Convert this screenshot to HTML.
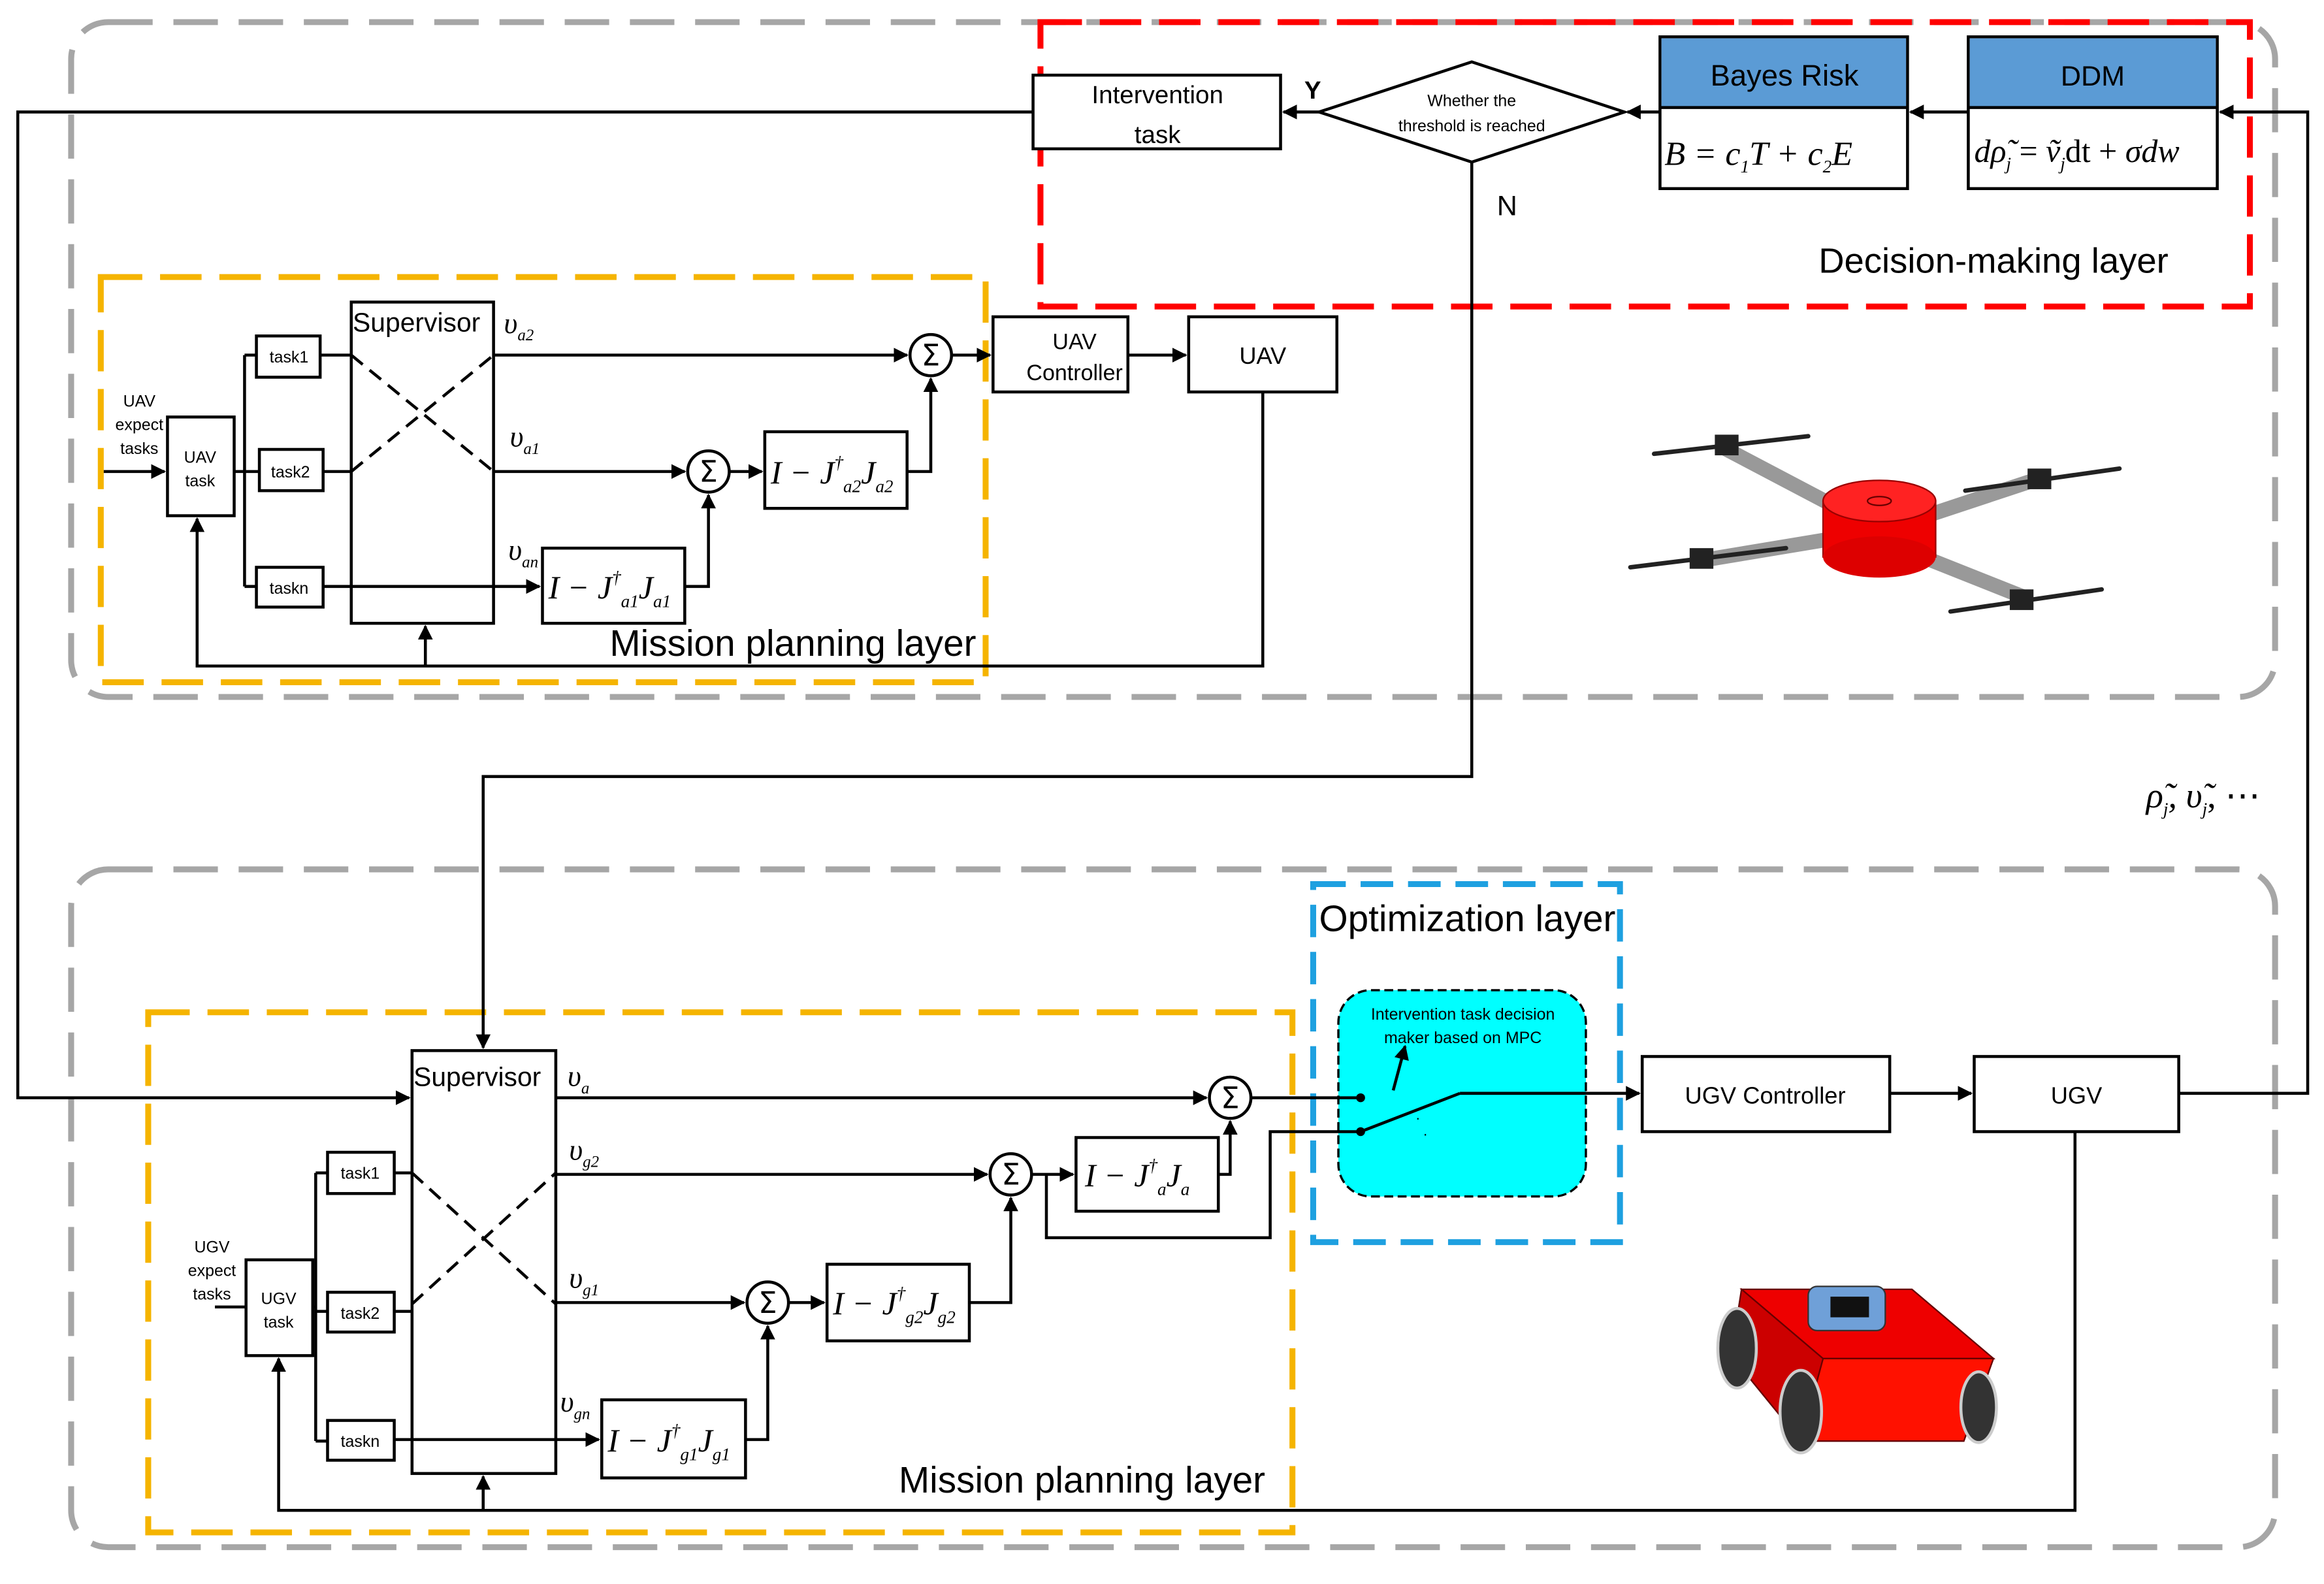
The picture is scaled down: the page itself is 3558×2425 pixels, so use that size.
<!DOCTYPE html>
<html><head><meta charset="utf-8"><style>html,body{margin:0;padding:0;background:#fff}svg{display:block}</style></head>
<body>
<svg width="3558" height="2425" viewBox="0 0 1568 1075" preserveAspectRatio="none" xmlns="http://www.w3.org/2000/svg" font-family="Liberation Sans, sans-serif">
<defs>
<marker id="a" markerWidth="10" markerHeight="10" refX="9" refY="5" orient="auto" markerUnits="userSpaceOnUse"><path d="M0,0 L10,5 L0,10 z" fill="#000"/></marker>
</defs>
<rect width="1568" height="1075" fill="#fff"/>
<rect x="48" y="15" width="1487" height="458" rx="25" fill="none" stroke="#a6a6a6" stroke-width="4" stroke-dasharray="30,14"/>
<rect x="48" y="590" width="1487" height="460" rx="25" fill="none" stroke="#a6a6a6" stroke-width="4" stroke-dasharray="30,14"/>
<rect x="702" y="15" width="816" height="193" fill="none" stroke="#ff0000" stroke-width="4" stroke-dasharray="28,12"/>
<rect x="68" y="188" width="597" height="275" fill="none" stroke="#f5b400" stroke-width="4" stroke-dasharray="28,12"/>
<rect x="100" y="687" width="772" height="353" fill="none" stroke="#f5b400" stroke-width="4" stroke-dasharray="28,12"/>
<rect x="886" y="600" width="207" height="243" fill="none" stroke="#1ea0e0" stroke-width="4" stroke-dasharray="22,10"/>
<rect x="903" y="672" width="167" height="140" rx="22" fill="#00ffff" stroke="#000" stroke-width="1.5" stroke-dasharray="6,3"/>

<g fill="none" stroke="#000" stroke-width="2">
<rect x="697" y="51" width="167" height="50" fill="#fff"/>
<polygon points="890,76 993,42 1096,76 993,110" fill="#fff"/>
<rect x="1120" y="25" width="167" height="103" fill="#fff"/>
<rect x="1121" y="26" width="165" height="47" fill="#5b9bd5" stroke="none"/>
<rect x="1328" y="25" width="168" height="103" fill="#fff"/>
<rect x="1329" y="26" width="166" height="47" fill="#5b9bd5" stroke="none"/>
<line x1="1120" y1="73" x2="1287" y2="73"/>
<line x1="1328" y1="73" x2="1496" y2="73"/>
<line x1="890" y1="76" x2="866" y2="76" marker-end="url(#a)"/>
<line x1="1120" y1="76" x2="1098" y2="76" marker-end="url(#a)"/>
<line x1="1328" y1="76" x2="1289" y2="76" marker-end="url(#a)"/>
<polyline points="1470,742 1557,742 1557,76 1498,76" marker-end="url(#a)"/>
<polyline points="697,76 12,76 12,745 276,745" marker-end="url(#a)"/>
<polyline points="993,110 993,527 326,527 326,711" marker-end="url(#a)"/>

<line x1="70" y1="320" x2="111" y2="320" marker-end="url(#a)"/>
<rect x="113" y="283" width="45" height="67"/>
<polyline points="158,320 165,320"/>
<line x1="165" y1="241" x2="165" y2="398"/>
<line x1="165" y1="241" x2="173" y2="241"/><line x1="165" y1="320" x2="175" y2="320"/><line x1="165" y1="398" x2="173" y2="398"/>
<rect x="173" y="228" width="43" height="28"/>
<rect x="175" y="305" width="43" height="28"/>
<rect x="173" y="385" width="45" height="27"/>
<line x1="216" y1="241" x2="237" y2="241"/><line x1="218" y1="320" x2="237" y2="320"/>
<rect x="237" y="205" width="96" height="218"/>
<line x1="237" y1="241" x2="333" y2="320" stroke-dasharray="10,6"/>
<line x1="237" y1="320" x2="333" y2="241" stroke-dasharray="10,6"/>
<line x1="218" y1="398" x2="364" y2="398" marker-end="url(#a)"/>
<rect x="366" y="372" width="96" height="51"/>
<line x1="333" y1="241" x2="612" y2="241" marker-end="url(#a)"/>
<line x1="333" y1="320" x2="462" y2="320" marker-end="url(#a)"/>
<circle cx="478" cy="320" r="14" fill="#fff"/>
<circle cx="628" cy="241" r="14" fill="#fff"/>
<line x1="492" y1="320" x2="514" y2="320" marker-end="url(#a)"/>
<rect x="516" y="293" width="96" height="52"/>
<polyline points="612,320 628,320 628,257" marker-end="url(#a)"/>
<polyline points="462,398 478,398 478,336" marker-end="url(#a)"/>
<line x1="642" y1="241" x2="668" y2="241" marker-end="url(#a)"/>
<rect x="670" y="215" width="91" height="51"/>
<line x1="761" y1="241" x2="800" y2="241" marker-end="url(#a)"/>
<rect x="802" y="215" width="100" height="51"/>
<polyline points="852,266 852,452 133,452 133,352" marker-end="url(#a)"/>
<line x1="287" y1="452" x2="287" y2="425" marker-end="url(#a)"/>

<line x1="145" y1="887" x2="166" y2="887"/>
<rect x="166" y="855" width="45" height="65"/>
<line x1="211" y1="887" x2="213" y2="887"/>
<line x1="213" y1="796" x2="213" y2="978"/>
<line x1="213" y1="796" x2="221" y2="796"/><line x1="213" y1="890" x2="221" y2="890"/><line x1="213" y1="978" x2="221" y2="978"/>
<rect x="221" y="782" width="45" height="28"/>
<rect x="221" y="877" width="45" height="27"/>
<rect x="221" y="964" width="45" height="27"/>
<line x1="266" y1="796" x2="278" y2="796"/><line x1="266" y1="890" x2="278" y2="890"/>
<rect x="278" y="713" width="97" height="287"/>
<line x1="278" y1="796" x2="375" y2="885" stroke-dasharray="10,6"/>
<line x1="278" y1="885" x2="375" y2="796" stroke-dasharray="10,6"/>
<line x1="266" y1="977" x2="404" y2="977" marker-end="url(#a)"/>
<rect x="406" y="950" width="97" height="53"/>
<line x1="375" y1="745" x2="814" y2="745" marker-end="url(#a)"/>
<circle cx="830" cy="745" r="14" fill="#fff"/>
<line x1="375" y1="797" x2="666" y2="797" marker-end="url(#a)"/>
<circle cx="682" cy="797" r="14" fill="#fff"/>
<line x1="375" y1="884" x2="502" y2="884" marker-end="url(#a)"/>
<circle cx="518" cy="884" r="14" fill="#fff"/>
<polyline points="503,977 518,977 518,900" marker-end="url(#a)"/>
<line x1="532" y1="884" x2="556" y2="884" marker-end="url(#a)"/>
<rect x="558" y="858" width="96" height="52"/>
<polyline points="654,884 682,884 682,813" marker-end="url(#a)"/>
<line x1="696" y1="797" x2="724" y2="797" marker-end="url(#a)"/>
<rect x="726" y="772" width="96" height="50"/>
<polyline points="822,797 830,797 830,761" marker-end="url(#a)"/>
<polyline points="706,797 706,840 857,840 857,768 918,768"/>
<line x1="844" y1="745" x2="918" y2="745"/>
<line x1="918" y1="768" x2="985" y2="742"/>
<line x1="985" y1="742" x2="1106" y2="742" marker-end="url(#a)"/>
<line x1="940" y1="740" x2="948" y2="710" marker-end="url(#a)"/>
<rect x="1108" y="717" width="167" height="51"/>
<line x1="1275" y1="742" x2="1330" y2="742" marker-end="url(#a)"/>
<rect x="1332" y="717" width="138" height="51"/>
<polyline points="1400,768 1400,1025 188,1025 188,922" marker-end="url(#a)"/>
<line x1="326" y1="1025" x2="326" y2="1002" marker-end="url(#a)"/>
</g>
<circle cx="918" cy="745" r="3" fill="#000"/><circle cx="918" cy="768" r="3" fill="#000"/>
<text x="955" y="762" font-size="10">·</text><text x="960" y="773" font-size="10">·</text>

<g font-size="17" text-anchor="middle">
<text x="781" y="70">Intervention</text><text x="781" y="97">task</text>
<text x="1204" y="58" font-size="20">Bayes Risk</text>
<text x="1412" y="58" font-size="19">DDM</text>
<text x="725" y="237" font-size="15">UAV</text><text x="725" y="258" font-size="15">Controller</text>
<text x="852" y="247" font-size="16">UAV</text>
<text x="1191" y="749" font-size="16">UGV Controller</text>
<text x="1401" y="749" font-size="16">UGV</text>
</g>
<text x="993" y="72" font-size="11" text-anchor="middle">Whether the</text>
<text x="993" y="89" font-size="11" text-anchor="middle">threshold is reached</text>
<text x="880" y="67" font-size="17" font-weight="bold">Y</text>
<text x="1010" y="146" font-size="19">N</text>
<text x="1345" y="185" font-size="24" text-anchor="middle">Decision-making layer</text>
<text x="535" y="445" font-size="25" text-anchor="middle">Mission planning layer</text>
<text x="730" y="1013" font-size="25" text-anchor="middle">Mission planning layer</text>
<text x="990" y="632" font-size="25" text-anchor="middle">Optimization layer</text>
<text x="987" y="692" font-size="11" text-anchor="middle">Intervention task decision</text>
<text x="987" y="708" font-size="11" text-anchor="middle">maker based on MPC</text>
<g font-size="11" text-anchor="middle">
<text x="94" y="276">UAV</text><text x="94" y="292">expect</text><text x="94" y="308">tasks</text>
<text x="135" y="314">UAV</text><text x="135" y="330">task</text>
<text x="195" y="246">task1</text><text x="196" y="324">task2</text><text x="195" y="403">taskn</text>
<text x="143" y="850">UGV</text><text x="143" y="866">expect</text><text x="143" y="882">tasks</text>
<text x="188" y="885">UGV</text><text x="188" y="901">task</text>
<text x="243" y="800">task1</text><text x="243" y="895">task2</text><text x="243" y="982">taskn</text>
</g>
<text x="238" y="225" font-size="18">Supervisor</text>
<text x="279" y="737" font-size="18">Supervisor</text>
<g font-family="Liberation Serif, serif" font-style="italic">
<text x="340" y="226" font-size="20">υ<tspan font-size="11" dy="5">a2</tspan></text>
<text x="344" y="303" font-size="20">υ<tspan font-size="11" dy="5">a1</tspan></text>
<text x="343" y="380" font-size="20">υ<tspan font-size="11" dy="5">an</tspan></text>
<text x="383" y="737" font-size="20">υ<tspan font-size="11" dy="5">a</tspan></text>
<text x="384" y="787" font-size="20">υ<tspan font-size="11" dy="5">g2</tspan></text>
<text x="384" y="874" font-size="20">υ<tspan font-size="11" dy="5">g1</tspan></text>
<text x="378" y="958" font-size="20">υ<tspan font-size="11" dy="5">gn</tspan></text>
<text x="520" y="328" font-size="22">I − J<tspan font-size="12" dy="-10">†</tspan><tspan font-size="12" dy="16">a2</tspan><tspan dy="-6">J</tspan><tspan font-size="12" dy="6">a2</tspan></text>
<text x="370" y="406" font-size="22">I − J<tspan font-size="12" dy="-10">†</tspan><tspan font-size="12" dy="16">a1</tspan><tspan dy="-6">J</tspan><tspan font-size="12" dy="6">a1</tspan></text>
<text x="732" y="805" font-size="22">I − J<tspan font-size="12" dy="-10">†</tspan><tspan font-size="12" dy="16">a</tspan><tspan dy="-6">J</tspan><tspan font-size="12" dy="6">a</tspan></text>
<text x="562" y="892" font-size="22">I − J<tspan font-size="12" dy="-10">†</tspan><tspan font-size="12" dy="16">g2</tspan><tspan dy="-6">J</tspan><tspan font-size="12" dy="6">g2</tspan></text>
<text x="410" y="985" font-size="22">I − J<tspan font-size="12" dy="-10">†</tspan><tspan font-size="12" dy="16">g1</tspan><tspan dy="-6">J</tspan><tspan font-size="12" dy="6">g1</tspan></text>
<text x="1123" y="112" font-size="23">B  =  c<tspan font-size="12" dy="5">1</tspan><tspan dy="-5">T  +  c</tspan><tspan font-size="12" dy="5">2</tspan><tspan dy="-5">E</tspan></text>
<text x="1332" y="110" font-size="22">dρ̃<tspan font-size="12" dy="5">j</tspan><tspan dy="-5" font-style="normal"> = </tspan>ṽ<tspan font-size="12" dy="5">j</tspan><tspan dy="-5" font-style="normal">dt + </tspan>σdw</text>
<text x="1448" y="548" font-size="24">ρ̃<tspan font-size="12" dy="5">j</tspan><tspan dy="-5">, υ̃</tspan><tspan font-size="12" dy="5">j</tspan><tspan dy="-5" font-style="normal">, ⋯</tspan></text>
</g>
<g font-size="20" text-anchor="middle" font-family="DejaVu Sans, sans-serif">
<text x="628" y="248">Σ</text><text x="478" y="327">Σ</text>
<text x="830" y="752">Σ</text><text x="682" y="804">Σ</text><text x="518" y="891">Σ</text>
</g>

<g stroke-linecap="round">
<line x1="1165" y1="305" x2="1250" y2="350" stroke="#999" stroke-width="10"/>
<line x1="1150" y1="380" x2="1240" y2="365" stroke="#999" stroke-width="10"/>
<line x1="1375" y1="325" x2="1300" y2="350" stroke="#999" stroke-width="10"/>
<line x1="1365" y1="405" x2="1290" y2="375" stroke="#999" stroke-width="10"/>
<rect x="1230" y="340" width="76" height="38" fill="#e00" stroke="#900"/>
<ellipse cx="1268" cy="378" rx="38" ry="14" fill="#d00"/>
<ellipse cx="1268" cy="340" rx="38" ry="14" fill="#f22" stroke="#900"/>
<ellipse cx="1268" cy="340" rx="8" ry="3" fill="none" stroke="#600"/>
<line x1="1116" y1="308" x2="1220" y2="296" stroke="#222" stroke-width="3"/>
<line x1="1100" y1="385" x2="1205" y2="372" stroke="#222" stroke-width="3"/>
<line x1="1326" y1="333" x2="1430" y2="318" stroke="#222" stroke-width="3"/>
<line x1="1316" y1="415" x2="1418" y2="400" stroke="#222" stroke-width="3"/>
<rect x="1157" y="295" width="16" height="14" fill="#222"/>
<rect x="1140" y="372" width="16" height="14" fill="#222"/>
<rect x="1368" y="318" width="16" height="14" fill="#222"/>
<rect x="1356" y="400" width="16" height="14" fill="#222"/>
</g>
<polygon points="1175,875 1290,875 1345,922 1230,922" fill="#e00" stroke="#600"/>
<polygon points="1230,922 1345,922 1325,978 1215,978" fill="#f10" stroke="#600"/>
<polygon points="1175,875 1230,922 1215,978 1168,920" fill="#c00" stroke="#600"/>
<rect x="1220" y="873" width="52" height="30" rx="6" fill="#6fa0d8" stroke="#333"/>
<rect x="1235" y="880" width="26" height="14" fill="#111"/>
<ellipse cx="1172" cy="915" rx="13" ry="27" fill="#333" stroke="#ccc" stroke-width="2"/>
<ellipse cx="1215" cy="958" rx="14" ry="28" fill="#333" stroke="#ccc" stroke-width="2"/>
<ellipse cx="1335" cy="955" rx="12" ry="24" fill="#333" stroke="#ccc" stroke-width="2"/>
</svg>
</body></html>
